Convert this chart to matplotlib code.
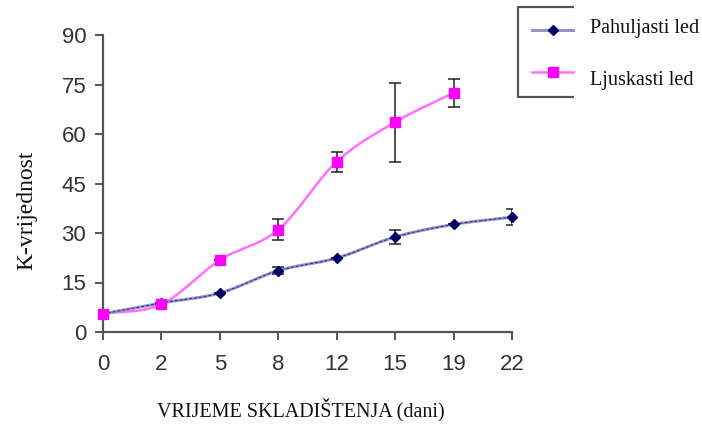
import matplotlib as mpl

mpl.use("agg")

import matplotlib.pyplot as plt
import numpy as np
from matplotlib.lines import Line2D

# data
days = ["0", "2", "5", "8", "12", "15", "19", "22"]
flake_vals = [5.5, 8.8, 11.8, 18.6, 22.4, 28.8, 32.6, 34.8]
flake_err = [0, 0, 0, 1.0, 0, 2.2, 0, 2.4]
scale_vals = [5.5, 8.4, 21.8, 31.0, 51.6, 63.6, 72.5]
scale_err = [0, 0, 0, 3.2, 3.0, 12.0, 4.2]

labels = ["Pahuljasti led", "Ljuskasti led"]
tick_color = "#333333"
axis_color = "#555555"


def smooth(x, y, n=20):
    # catmull-rom curve through the points, like the spreadsheet "smoothed line"
    x = np.asarray(x, float)
    y = np.asarray(y, float)
    px = np.concatenate([[2 * x[0] - x[1]], x, [2 * x[-1] - x[-2]]])
    py = np.concatenate([[2 * y[0] - y[1]], y, [2 * y[-1] - y[-2]]])
    t = np.linspace(0, 1, n)
    xs, ys = [], []
    for i in range(1, len(px) - 2):
        for p, out in ((px, xs), (py, ys)):
            p0, p1, p2, p3 = p[i - 1], p[i], p[i + 1], p[i + 2]
            out.append(0.5 * ((2 * p1) + (-p0 + p2) * t
                              + (2 * p0 - 5 * p1 + 4 * p2 - p3) * t ** 2
                              + (-p0 + 3 * p1 - 3 * p2 + p3) * t ** 3))
    return np.concatenate(xs), np.concatenate(ys)


fig = plt.figure(figsize=(7.02, 4.26), dpi=100)
ax = fig.add_axes([103 / 702, 1 - 332 / 426, 409 / 702, 297 / 426])

xf = np.arange(len(flake_vals))
xs = np.arange(len(scale_vals))

sx, sy = smooth(xs, scale_vals)
ax.plot(sx, sy, color="#ff70ff", lw=1.8, zorder=2, clip_on=False)
fx, fy = smooth(xf, flake_vals)
ax.plot(fx, fy, color="#9494cc", lw=2.2, zorder=3, clip_on=False)
ax.plot(fx, fy, color="#2a2a78", lw=0.7, ls=(0, (3, 2)), zorder=3, clip_on=False)

ax.errorbar(xf, flake_vals, yerr=flake_err, fmt="none", ecolor="#222222",
            elinewidth=1.1, capsize=4, capthick=1.1, zorder=4)
ax.errorbar(xs, scale_vals, yerr=scale_err, fmt="none", ecolor="#222222",
            elinewidth=1.1, capsize=4, capthick=1.1, zorder=4)
ax.plot(xf, flake_vals, ls="none", marker="D", ms=5.5, color="#000066",
        zorder=5, clip_on=False)
ax.plot(xs, scale_vals, ls="none", marker="s", ms=7, color="#ff00ff",
        zorder=6, clip_on=False)

ax.set_xlim(0, len(days) - 1)
ax.set_ylim(0, 90)
ax.set_xticks(np.arange(len(days)))
ax.set_xticklabels(days)
ax.set_yticks(np.arange(0, 91, 15))

for side in ["top", "right"]:
    ax.spines[side].set_visible(False)
for side in ["left", "bottom"]:
    ax.spines[side].set_color(axis_color)
    ax.spines[side].set_linewidth(1.6)
ax.tick_params(axis="both", direction="out", length=6, width=1.4,
               color=axis_color, labelcolor=tick_color, labelsize=16)
ax.tick_params(axis="x", pad=10)
ax.tick_params(axis="y", pad=6)
for lab in ax.get_xticklabels() + ax.get_yticklabels():
    lab.set_fontfamily("Liberation Sans")

ax.set_ylabel("K-vrijednost", fontfamily="Liberation Serif", fontsize=17,
              color="#111111", va="center", ha="center")
ax.yaxis.set_label_coords(-0.185, 0.41)
ax.set_xlabel("VRIJEME SKLADIŠTENJA (dani)", fontfamily="Liberation Serif",
              fontsize=14.5, color="#111111", va="center", ha="center")
ax.xaxis.set_label_coords(0.484, -0.263)


# legend, drawn by hand in figure pixels since its box runs off the edge
def fx_(px):
    return px / 702


def fy_(py):
    return 1 - py / 426


fig.add_artist(Line2D([fx_(573), fx_(518), fx_(518), fx_(573)],
                      [fy_(7), fy_(7), fy_(97), fy_(97)],
                      color=axis_color, lw=1.6))
fig.add_artist(Line2D([fx_(532), fx_(573)], [fy_(30), fy_(30)],
                      color="#9494cc", lw=2.2))
fig.add_artist(Line2D([fx_(553)], [fy_(30)], marker="D", ms=5.5,
                      color="#000066", ls="none"))
fig.add_artist(Line2D([fx_(532), fx_(573)], [fy_(72), fy_(72)],
                      color="#ff70ff", lw=1.8))
fig.add_artist(Line2D([fx_(553)], [fy_(72)], marker="s", ms=7,
                      color="#ff00ff", ls="none"))
fig.text(fx_(590), fy_(29), labels[0], fontfamily="Liberation Serif",
         fontsize=14.5, va="center", ha="left", color="#111111")
fig.text(fx_(590), fy_(81), labels[1], fontfamily="Liberation Serif",
         fontsize=14.5, va="center", ha="left", color="#111111")

fig.savefig("out.png", dpi=100, facecolor="white")
